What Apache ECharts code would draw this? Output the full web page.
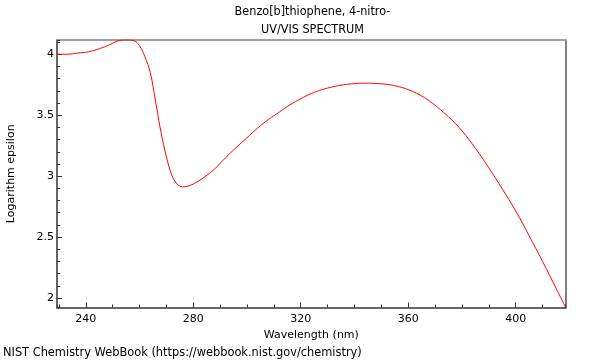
<!DOCTYPE html>
<html>
<head>
<meta charset="utf-8">
<script src="https://cdn.jsdelivr.net/npm/echarts@6/dist/echarts.min.js"></script>
<style>html,body{margin:0;padding:0;background:#fff;}#c{width:600px;height:360px;}</style>
</head>
<body>
<div id="c"></div>
<script>
const wavelength = [229.3, 233, 237, 241, 245, 249, 252, 255, 258, 260, 262, 264, 266, 268, 270, 272, 274, 276, 278, 280, 284, 288, 292, 296, 300, 304, 308, 312, 316, 320, 324, 328, 332, 336, 340, 344, 348, 352, 356, 360, 364, 368, 372, 376, 380, 385, 390, 395, 400, 405, 410, 415, 418.6];
const logEpsilon = [4.00, 4.00, 4.01, 4.02, 4.045, 4.08, 4.11, 4.118, 4.11, 4.07, 3.98, 3.85, 3.61, 3.36, 3.16, 3.01, 2.935, 2.912, 2.918, 2.935, 2.99, 3.06, 3.15, 3.235, 3.315, 3.395, 3.465, 3.525, 3.585, 3.635, 3.678, 3.71, 3.733, 3.75, 3.759, 3.763, 3.76, 3.753, 3.737, 3.71, 3.67, 3.615, 3.545, 3.465, 3.372, 3.228, 3.068, 2.895, 2.715, 2.51, 2.30, 2.08, 1.922];
const xRange = [229.3, 418.6];
const yRange = [1.922, 4.117];
const titleLines = ['Benzo[b]thiophene, 4-nitro-', 'UV/VIS SPECTRUM'];
const xName = 'Wavelength (nm)';
const yName = 'Logarithm epsilon';
const footer = 'NIST Chemistry WebBook (https://webbook.nist.gov/chemistry)';

const chart = echarts.init(document.getElementById('c'), null, {renderer: 'canvas'});
const FONT = 'DejaVu Sans';
const data = wavelength.map((w, i) => [w, logEpsilon[i]]);
const gridPos = {left: 57, top: 40, right: 34.3, bottom: 52.5};

chart.setOption({
  animation: false,
  backgroundColor: '#fff',
  title: [
    {text: titleLines.join('\n'), left: 312.5, top: 3, textAlign: 'center', padding: 0,
     textStyle: {fontFamily: 'DejaVu Sans Condensed, ' + FONT, fontSize: 12.5, fontWeight: 'normal', color: '#000', lineHeight: 18}},
    {text: footer, left: 3, top: 347.5, padding: 0,
     textStyle: {fontFamily: FONT, fontSize: 11.4, fontWeight: 'normal', color: '#000'}}
  ],
  grid: Object.assign({show: false, containLabel: false, outerBoundsMode: 'none'}, gridPos),
  xAxis: [
    {type: 'value', min: xRange[0], max: xRange[1], minInterval: 40, maxInterval: 40,
     position: 'bottom', name: xName, nameLocation: 'middle', nameGap: 16,
     nameTextStyle: {fontFamily: FONT, fontSize: 11, color: '#000'},
     axisLine: {show: true, lineStyle: {color: '#333', width: 1.5}},
     axisTick: {show: true, inside: true, length: 5, lineStyle: {color: '#333'}},
     axisLabel: {fontFamily: FONT, fontSize: 11, color: '#000', margin: 6, showMinLabel: false, showMaxLabel: false},
     splitLine: {show: false}},
    {type: 'value', min: xRange[0], max: xRange[1], minInterval: 10, maxInterval: 10,
     position: 'bottom',
     axisLine: {show: false},
     axisTick: {show: true, inside: true, length: 3, lineStyle: {color: '#333'}},
     axisLabel: {show: false}, splitLine: {show: false}},
    {type: 'value', min: xRange[0], max: xRange[1], position: 'top',
     axisLine: {show: true, lineStyle: {color: '#a0a0a0', width: 2}},
     axisTick: {show: false}, axisLabel: {show: false}, splitLine: {show: false}}
  ],
  yAxis: [
    {type: 'value', min: yRange[0], max: yRange[1], minInterval: 0.5, maxInterval: 0.5,
     position: 'left', name: yName, nameLocation: 'middle', nameGap: 40, nameRotate: 90,
     nameTextStyle: {fontFamily: FONT, fontSize: 11, color: '#000'},
     axisLine: {show: true, lineStyle: {color: '#333', width: 1.5}},
     axisTick: {show: true, inside: true, length: 5, lineStyle: {color: '#333'}},
     axisLabel: {fontFamily: FONT, fontSize: 11, color: '#000', margin: 3, showMinLabel: false, showMaxLabel: false},
     splitLine: {show: false}},
    {type: 'value', min: yRange[0], max: yRange[1], minInterval: 0.1, maxInterval: 0.1,
     position: 'left',
     axisLine: {show: false},
     axisTick: {show: true, inside: true, length: 3, lineStyle: {color: '#333'}},
     axisLabel: {show: false}, splitLine: {show: false}},
    {type: 'value', min: yRange[0], max: yRange[1], position: 'right',
     axisLine: {show: true, lineStyle: {color: '#555', width: 1.5}},
     axisTick: {show: false}, axisLabel: {show: false}, splitLine: {show: false}}
  ],
  series: [{
    type: 'line', xAxisIndex: 0, yAxisIndex: 0, data: data,
    smooth: 0.4, showSymbol: false, symbol: 'none',
    lineStyle: {color: '#ff0000', width: 1}
  }]
});
</script>
</body>
</html>
